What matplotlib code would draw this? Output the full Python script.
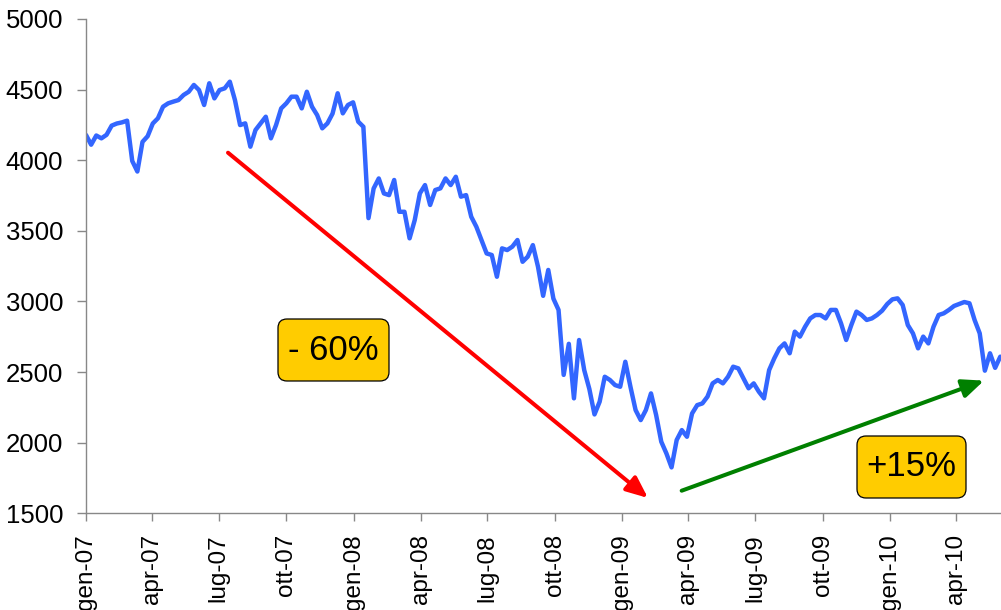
import matplotlib
matplotlib.use("Agg")
import matplotlib.pyplot as plt
import pandas as pd
from matplotlib.patches import FancyBboxPatch

# ---- data (weekly closes) ----
start_date = "2007-01-01"
values = [
    4179, 4110, 4175, 4155, 4180, 4245, 4260, 4268, 4280, 3995,
    3920, 4130, 4170, 4260, 4297, 4379, 4403, 4415, 4426, 4462,
    4485, 4533, 4497, 4391, 4545, 4438, 4497, 4509, 4556, 4426,
    4249, 4261, 4096, 4214, 4261, 4308, 4155, 4249, 4367, 4403,
    4450, 4450, 4367, 4485, 4379, 4320, 4226, 4261, 4330, 4474,
    4332, 4391, 4410, 4273, 4237, 3590, 3800, 3871, 3765, 3753,
    3860, 3635, 3635, 3447, 3576, 3765, 3824, 3683, 3789, 3801,
    3871, 3824, 3883, 3742, 3753, 3600, 3529, 3435, 3340, 3329,
    3175, 3376, 3364, 3388, 3435, 3281, 3317, 3399, 3246, 3040,
    3223, 3020, 2940, 2480, 2700, 2314, 2727, 2514, 2380, 2200,
    2290, 2467, 2444, 2408, 2396, 2573, 2396, 2231, 2160, 2231,
    2349, 2196, 2007, 1924, 1825, 2019, 2089, 2042, 2207, 2266,
    2278, 2326, 2420, 2444, 2420, 2467, 2538, 2526, 2455, 2385,
    2420, 2361, 2314, 2514, 2597, 2668, 2703, 2633, 2786, 2751,
    2821, 2880, 2904, 2904, 2880, 2940, 2940, 2845, 2727, 2833,
    2928, 2904, 2869, 2880, 2904, 2935, 2982, 3015, 3022, 2975,
    2833, 2774, 2668, 2751, 2703, 2821, 2904, 2916, 2940, 2968,
    2982, 2996, 2987, 2869, 2774, 2510, 2633, 2530, 2609,
]
dates = pd.date_range(start_date, periods=len(values), freq="7D")

tick_dates = pd.date_range("2007-01-01", periods=14, freq="QS")
tick_labels = ["gen-07", "apr-07", "lug-07", "ott-07", "gen-08", "apr-08",
               "lug-08", "ott-08", "gen-09", "apr-09", "lug-09", "ott-09",
               "gen-10", "apr-10"]
y_ticks = [1500, 2000, 2500, 3000, 3500, 4000, 4500, 5000]
drop_label = "- 60%"
rise_label = "+15%"

# ---- styling ----
plt.rcParams["font.family"] = ["Liberation Sans", "DejaVu Sans"]

W, H = 1001, 610
fig = plt.figure(figsize=(W / 100, H / 100), dpi=100)
ax = fig.add_axes([86 / W, (H - 513.3) / H, (W - 86) / W, 494.3 / H])

ax.plot(dates, values, color="#3366FF", lw=3.2, solid_joinstyle="round",
        solid_capstyle="round")

ax.set_xlim(pd.Timestamp("2007-01-01"), pd.Timestamp("2010-06-01"))
ax.set_ylim(1500, 5000)
ax.set_yticks(y_ticks)
ax.set_xticks(tick_dates)
ax.set_xticklabels(tick_labels, rotation=90)

for s in ["top", "right"]:
    ax.spines[s].set_visible(False)
for s in ["left", "bottom"]:
    ax.spines[s].set_color("#888888")
    ax.spines[s].set_linewidth(1.0)

ax.tick_params(axis="y", direction="out", length=6.5, width=1.0,
               color="#888888", pad=10, labelsize=18.5, labelcolor="black")
ax.tick_params(axis="x", direction="out", length=6, width=1.0,
               color="#888888", pad=9, labelsize=17.5, labelcolor="black")

# ---- arrows ----
ax.annotate("", xy=(0.6142, 0.031), xytext=(0.1552, 0.7295),
            xycoords="axes fraction", textcoords="axes fraction",
            arrowprops=dict(arrowstyle="-|>,head_length=0.65,head_width=0.28",
                            color="#FF0000", lw=2.9, mutation_scale=20,
                            shrinkA=0, shrinkB=0))
ax.annotate("", xy=(0.9814, 0.2684), xytext=(0.651, 0.0457),
            xycoords="axes fraction", textcoords="axes fraction",
            arrowprops=dict(arrowstyle="-|>,head_length=0.65,head_width=0.28",
                            color="#008000", lw=2.9, mutation_scale=20,
                            shrinkA=0, shrinkB=0))

# ---- labelled boxes (positions in inches from bottom-left) ----
def label_box(x0_px, y_top_px, w_px, h_px, text):
    x0 = x0_px / 100
    y0 = (H - y_top_px - h_px) / 100
    patch = FancyBboxPatch((x0, y0), w_px / 100, h_px / 100,
                           boxstyle="round,pad=0,rounding_size=0.09",
                           transform=fig.dpi_scale_trans,
                           facecolor="#FFCC00", edgecolor="black", lw=0.9)
    fig.add_artist(patch)
    fig.text(x0 + w_px / 200, y0 + h_px / 200, text,
             transform=fig.dpi_scale_trans, ha="center", va="center",
             fontsize=25, color="black")

label_box(278, 319, 111, 62, drop_label)
label_box(857, 436, 109, 62, rise_label)

fig.savefig("out.png", dpi=100)
